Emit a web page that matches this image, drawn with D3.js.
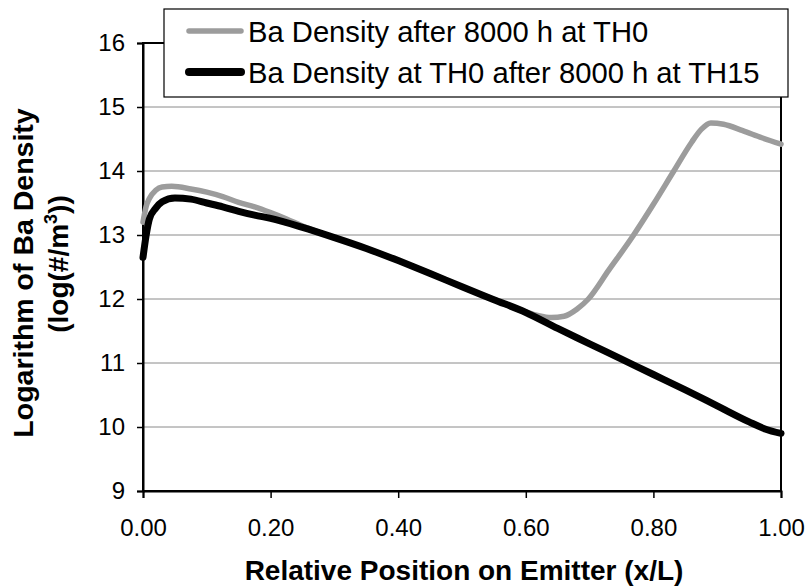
<!DOCTYPE html>
<html>
<head>
<meta charset="utf-8">
<script src="https://cdn.jsdelivr.net/npm/d3@7/dist/d3.min.js"></script>
<style>
  html, body { margin: 0; padding: 0; background: #fff; }
  svg { display: block; font-family: "Liberation Sans", Arial, Helvetica, sans-serif; }
</style>
</head>
<body>
<svg id="chart" width="811" height="588"></svg>
<script>
// ---- data ----
const seriesNames = ["Ba Density after 8000 h at TH0", "Ba Density at TH0 after 8000 h at TH15"];
const xTicks = [0, 0.2, 0.4, 0.6, 0.8, 1.0];
const yTicks = [9, 10, 11, 12, 13, 14, 15, 16];

const th0X = [0, 0.005, 0.01, 0.02, 0.03, 0.045, 0.075, 0.1, 0.125, 0.15, 0.175, 0.2, 0.225, 0.25, 0.3, 0.35, 0.4, 0.45, 0.5, 0.55, 0.58, 0.6, 0.62, 0.64, 0.66, 0.68, 0.698, 0.73, 0.769, 0.8, 0.832, 0.86, 0.875, 0.89, 0.91, 0.94, 0.97, 1.0];
const th0Y = [13.2, 13.45, 13.57, 13.7, 13.75, 13.76, 13.72, 13.67, 13.6, 13.51, 13.44, 13.35, 13.25, 13.14, 12.96, 12.79, 12.6, 12.4, 12.19, 11.99, 11.87, 11.8, 11.74, 11.71, 11.73, 11.84, 12.0, 12.45, 13.0, 13.48, 14.0, 14.45, 14.65, 14.75, 14.73, 14.63, 14.52, 14.42];

const th15X = [0, 0.005, 0.01, 0.02, 0.03, 0.05, 0.075, 0.1, 0.125, 0.15, 0.175, 0.2, 0.25, 0.3, 0.35, 0.4, 0.45, 0.5, 0.55, 0.6, 0.65, 0.7, 0.75, 0.8, 0.85, 0.9, 0.95, 0.975, 1.0];
const th15Y = [12.65, 13.0, 13.25, 13.42, 13.52, 13.58, 13.56, 13.5, 13.44, 13.37, 13.31, 13.26, 13.12, 12.96, 12.79, 12.6, 12.4, 12.19, 11.99, 11.79, 11.54, 11.3, 11.06, 10.82, 10.58, 10.33, 10.08, 9.97, 9.9];

// ---- layout ----
const svg = d3.select("#chart");
const pL = 143, pR = 781, pT = 43, pB = 491;
const x = d3.scaleLinear().domain([0, 1]).range([pL, pR]);
const y = d3.scaleLinear().domain([9, 16]).range([pB, pT]);

// gridlines
svg.append("g").selectAll("line").data(yTicks.filter(d => d > 9 && d < 16)).join("line")
  .attr("x1", pL).attr("x2", pR)
  .attr("y1", d => y(d)).attr("y2", d => y(d))
  .attr("stroke", "#8a8a8a").attr("stroke-width", 1);

// plot frame (top & right)
svg.append("rect").attr("x", pL).attr("y", pT).attr("width", pR - pL).attr("height", pB - pT)
  .attr("fill", "none").attr("stroke", "#000").attr("stroke-width", 2);

// axes
const xAxis = d3.axisBottom(x).tickValues(xTicks).tickFormat(d3.format(".2f")).tickSize(7).tickPadding(21);
const gx = svg.append("g").attr("transform", `translate(0,${pB})`).call(xAxis);
const yAxis = d3.axisLeft(y).tickValues(yTicks).tickFormat(d3.format("d")).tickSize(6).tickPadding(12);
const gy = svg.append("g").attr("transform", `translate(${pL},0)`).call(yAxis);
[gx, gy].forEach(g => {
  g.select(".domain").attr("stroke", "#000").attr("stroke-width", 2);
  g.selectAll(".tick line").attr("stroke", "#000").attr("stroke-width", 1.5);
  g.selectAll(".tick text").attr("fill", "#000").style("font-size", "24px")
    .style("font-family", '"Liberation Sans", Arial, sans-serif');
});

// lines
const line = d3.line().x(d => x(d[0])).y(d => y(d[1])).curve(d3.curveMonotoneX);
const th0 = th0X.map((v, i) => [v, th0Y[i]]);
const th15 = th15X.map((v, i) => [v, th15Y[i]]);
svg.append("path").datum(th0).attr("d", line).attr("fill", "none")
  .attr("stroke", "#9c9c9c").attr("stroke-width", 5.5).attr("stroke-linejoin", "round").attr("stroke-linecap", "round");
svg.append("path").datum(th15).attr("d", line).attr("fill", "none")
  .attr("stroke", "#000").attr("stroke-width", 7).attr("stroke-linejoin", "round").attr("stroke-linecap", "round");

// legend
const lg = svg.append("g");
lg.append("rect").attr("x", 164).attr("y", 9).attr("width", 624).attr("height", 88)
  .attr("fill", "#fff").attr("stroke", "#000").attr("stroke-width", 1.2);
const legendItems = [
  { name: seriesNames[0], color: "#9c9c9c", w: 5.5, yy: 31, by: 42 },
  { name: seriesNames[1], color: "#000", w: 8, yy: 72, by: 83 }
];
legendItems.forEach(it => {
  lg.append("line").attr("x1", 189).attr("x2", 241).attr("y1", it.yy).attr("y2", it.yy)
    .attr("stroke", it.color).attr("stroke-width", it.w).attr("stroke-linecap", "round");
  lg.append("text").attr("x", 248).attr("y", it.by).style("font-size", "29.2px").attr("fill", "#000")
    .text(it.name);
});

// axis titles
svg.append("text").attr("x", (pL + pR) / 2 + 2).attr("y", 580).attr("text-anchor", "middle")
  .style("font-size", "28px").style("font-weight", "bold").text("Relative Position on Emitter (x/L)");

const yt = svg.append("text").attr("transform", `translate(33,273) rotate(-90)`)
  .attr("text-anchor", "middle").style("font-size", "28.5px").style("font-weight", "bold");
yt.text("Logarithm of Ba Density");
const yt2 = svg.append("text").attr("transform", `translate(68,264) rotate(-90)`)
  .attr("text-anchor", "middle").style("font-size", "28px").style("font-weight", "bold");
yt2.append("tspan").text("(log(#/m");
yt2.append("tspan").attr("dy", -11).style("font-size", "18px").text("3");
yt2.append("tspan").attr("dy", 11).text("))");
</script>
</body>
</html>
